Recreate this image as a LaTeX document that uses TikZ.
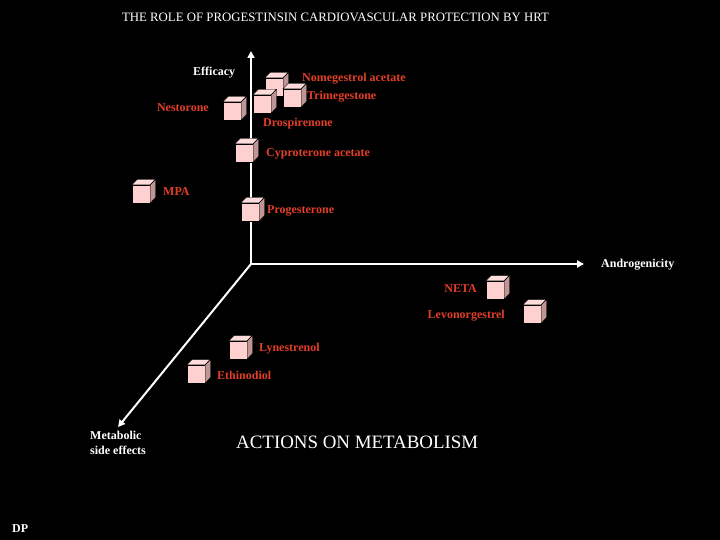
\documentclass[tikz,border=0pt]{standalone}
\usepackage{fontspec}
\setmainfont{Liberation Serif}
\usetikzlibrary{arrows.meta}
\definecolor{labred}{RGB}{226,62,40}
\definecolor{cubefront}{RGB}{255,208,208}
\definecolor{cubetop}{RGB}{255,220,220}
\definecolor{cubeside}{RGB}{190,150,150}
\tikzset{
  axis/.style={white,line width=2pt,-{Triangle[length=7pt,width=7pt]}},
  lab/.style={text=labred,font=\bfseries\fontsize{12}{13}\selectfont,inner sep=0pt,anchor=west,yshift=-1.5pt},
  wlab/.style={text=white,font=\bfseries\fontsize{12}{13}\selectfont,inner sep=0pt,anchor=west,yshift=-1.5pt},
  cubeface/.style={draw=black,line width=0.4pt,fill=cubefront,minimum size=18pt,inner sep=0pt},
}
\newcommand{\mycube}[2]{%
  \node[cubeface] (#1) at (#2) {};
  \fill[cubetop,draw=black,line width=0.4pt] (#1.north west) -- ++(5.5pt,5.5pt) -- ++(18pt,0pt) -- (#1.north east) -- cycle;
  \fill[cubeside,draw=black,line width=0.4pt] (#1.north east) -- ++(5.5pt,5.5pt) -- ++(0pt,-18pt) -- (#1.south east) -- cycle;
}
\begin{document}
\begin{tikzpicture}[x=1pt,y=-1pt]
\fill[black] (0,0) rectangle (720,540);
\useasboundingbox (0,0) rectangle (720,540);
% title
\node[text=white,font=\fontsize{12.8}{14}\selectfont,inner sep=0pt] (title) at (335.5,17) {THE ROLE OF PROGESTINSIN CARDIOVASCULAR PROTECTION BY HRT};
% axes
\coordinate (O) at (251,264);
\coordinate (top) at (251,51);
\coordinate (right) at (584,264);
\coordinate (diag) at (118,427);
\draw[axis] (O) -- (top);
\draw[axis] (O) -- (right);
\draw[axis] (O) -- (diag);
% axis labels
\node[wlab] (eff) at (193,71) {Efficacy};
\node[wlab] (andr) at (601,263) {Androgenicity};
\node[text=white,font=\bfseries\fontsize{12}{15}\selectfont,inner sep=0pt,align=left,anchor=north west] (meta) at (90,431) {Metabolic\\side effects};
\node[text=white,font=\fontsize{18.9}{21}\selectfont,inner sep=0pt,anchor=west] (actions) at (236,442) {ACTIONS ON METABOLISM};
\node[wlab] (dp) at (12,527) {DP};
% cubes
\mycube{cNom}{274,87}
\mycube{cTri}{292,98}
\mycube{cDro}{262,104}
\mycube{cNes}{232,111}
\mycube{cCyp}{244,153}
\mycube{cMPA}{141,194}
\mycube{cPro}{250,212}
\mycube{cNETA}{495,290}
\mycube{cLev}{532,314}
\mycube{cLyn}{238,350}
\mycube{cEth}{196,374}
% labels
\node[lab] (lNom) at (302,77) {Nomegestrol acetate};
\node[lab] (lTri) at (307,95) {Trimegestone};
\node[lab,anchor=east] (lNes) at (209,106) {Nestorone};
\node[lab] (lDro) at (263,122) {Drospirenone};
\node[lab] (lCyp) at (266,152) {Cyproterone acetate};
\node[lab] (lMPA) at (163,190) {MPA};
\node[lab] (lPro) at (267,209) {Progesterone};
\node[lab,anchor=east] (lNETA) at (477,287) {NETA};
\node[lab,anchor=east] (lLev) at (505,314) {Levonorgestrel};
\node[lab] (lLyn) at (259,347) {Lynestrenol};
\node[lab] (lEth) at (217,374) {Ethinodiol};
\end{tikzpicture}
\end{document}
